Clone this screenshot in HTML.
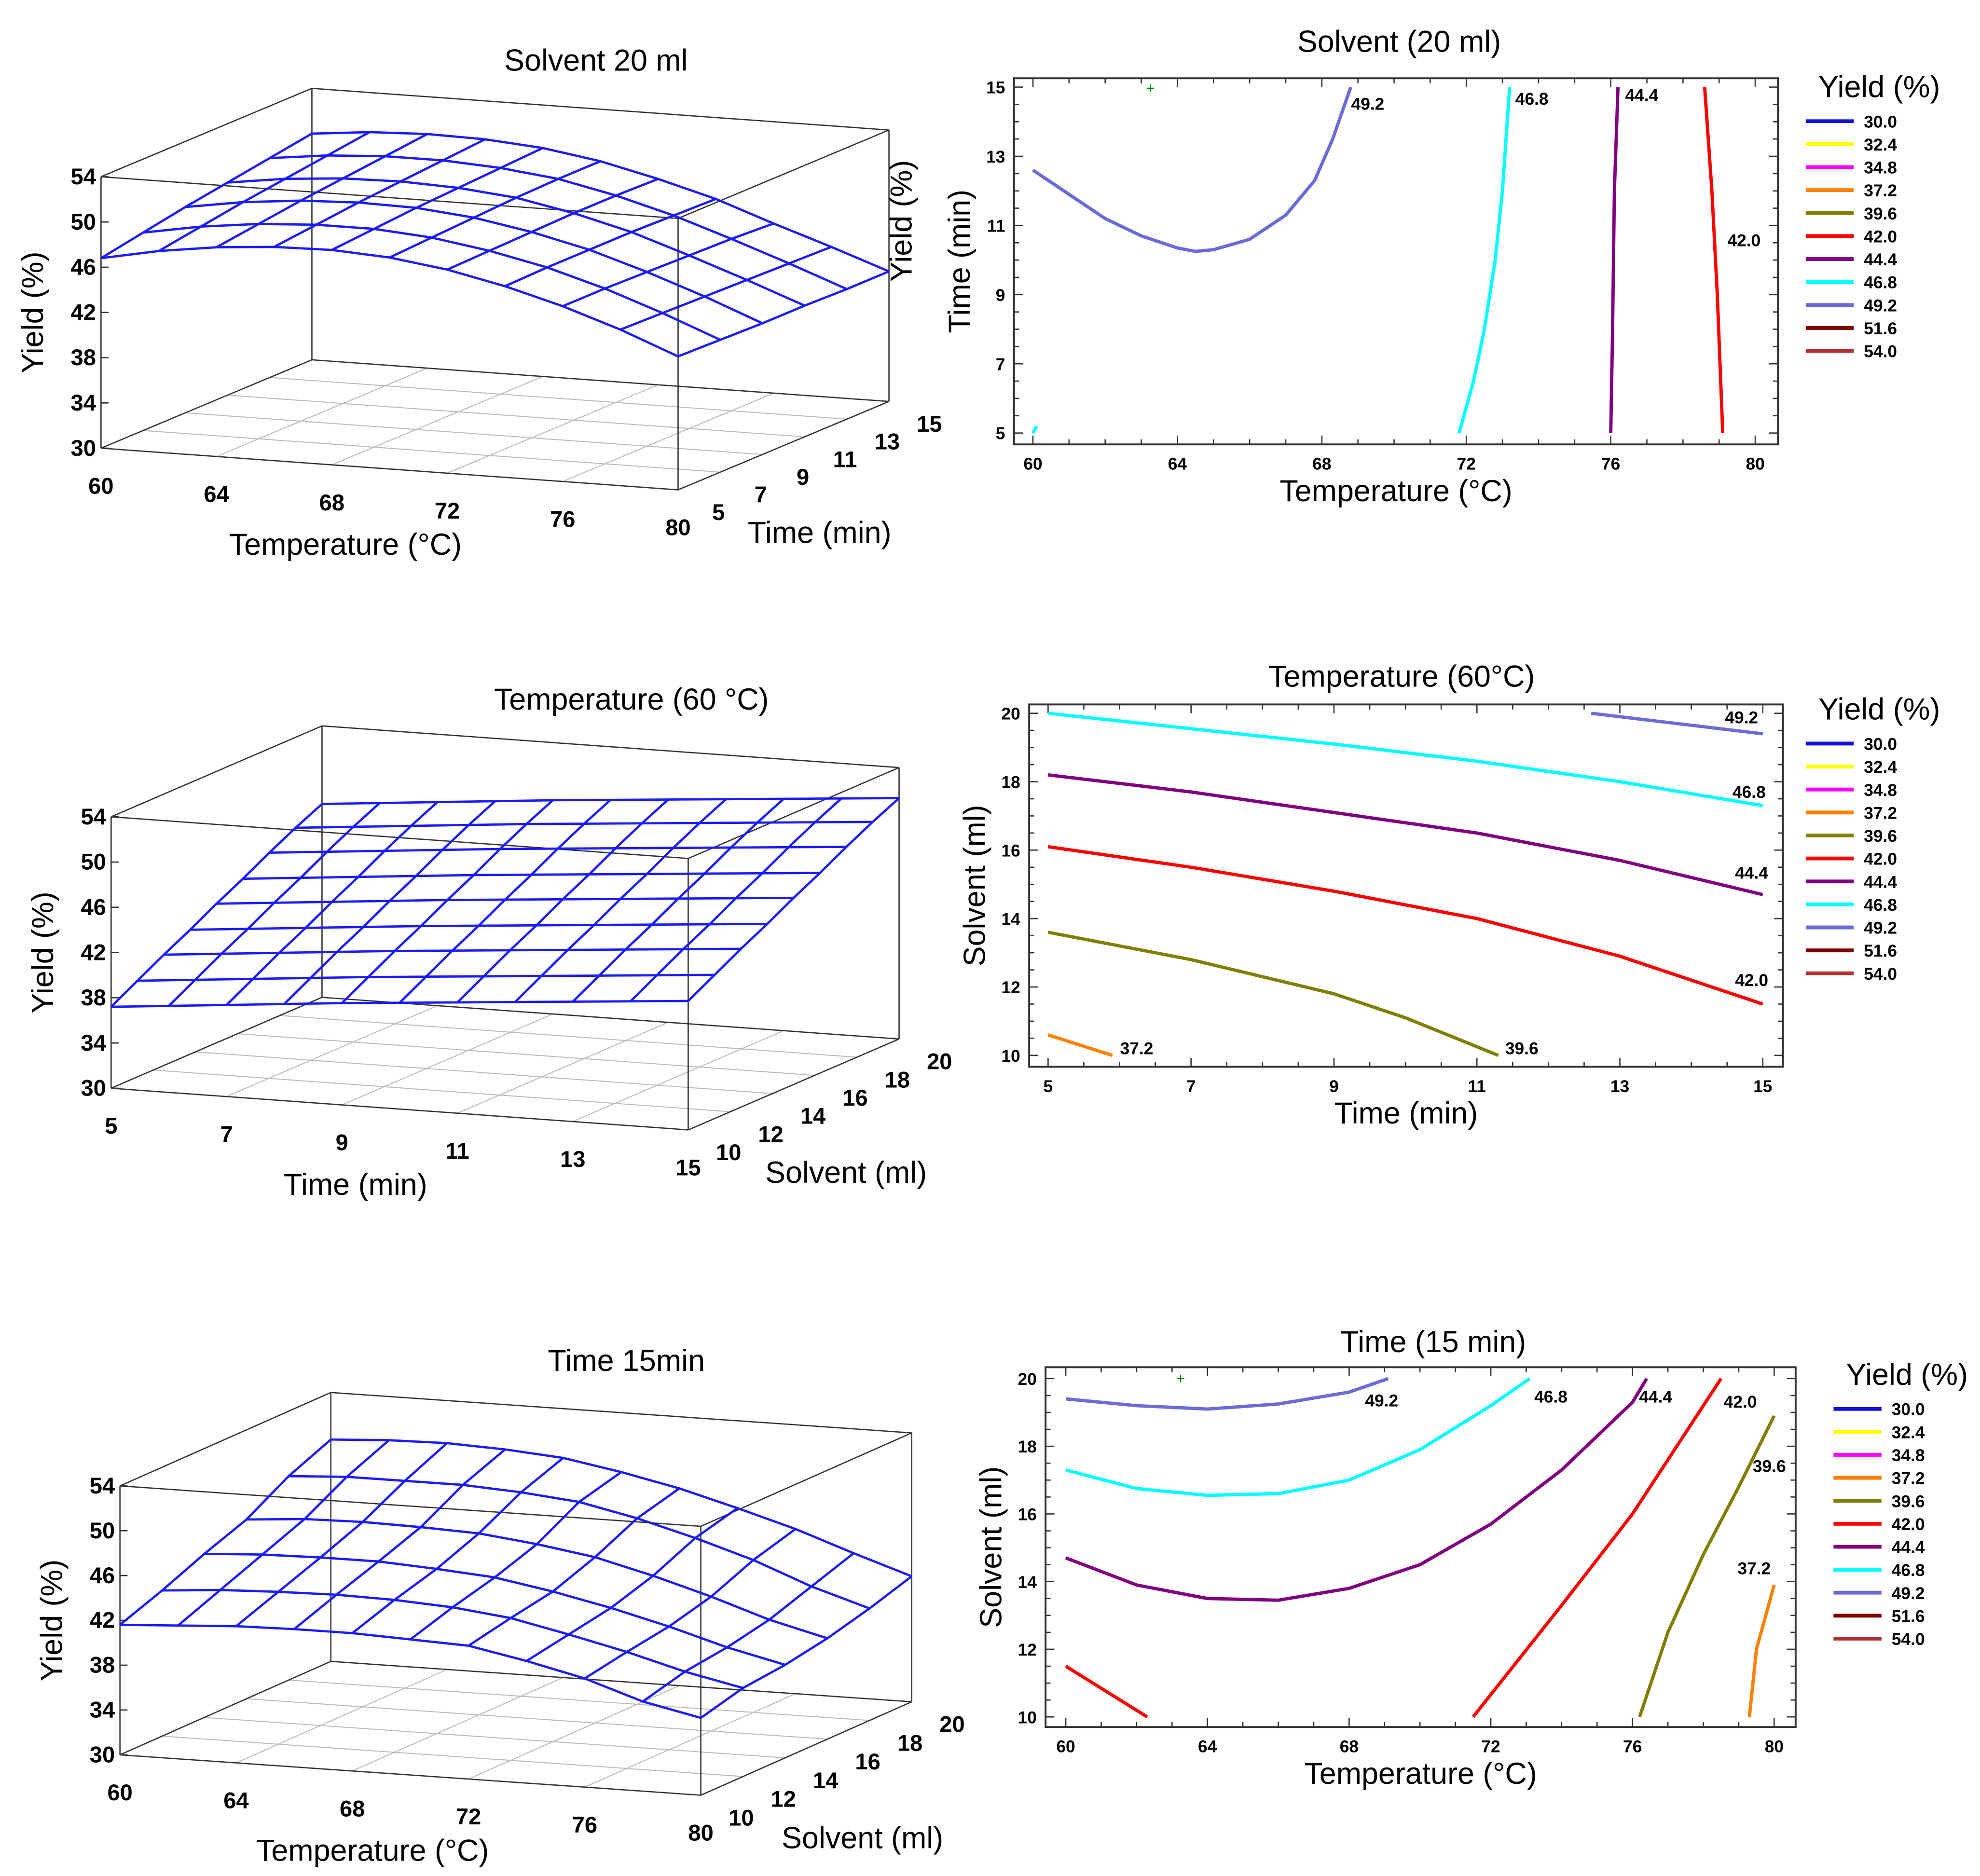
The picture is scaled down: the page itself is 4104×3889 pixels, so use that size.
<!DOCTYPE html>
<html><head><meta charset="utf-8">
<style>
html,body{margin:0;padding:0;background:#fff;}
svg{display:block;}
text{font-family:"Liberation Sans",Arial,sans-serif;}
.t{font-size:24px;fill:#000;}
.ax{font-size:24px;fill:#000;}
.tk{font-size:18px;font-weight:bold;fill:#000;}
.ct{font-size:13.5px;font-weight:bold;fill:#000;}
</style></head>
<body>
<svg id="fig" width="4104" height="3889" viewBox="0 0 1568 1486" preserveAspectRatio="none" xmlns="http://www.w3.org/2000/svg">
<rect x="0" y="0" width="1568" height="1486" fill="#fff"/>
<text class="t" x="472" y="56" text-anchor="middle">Solvent 20 ml</text>
<text class="t" x="1108" y="41" text-anchor="middle">Solvent (20 ml)</text>
<text class="t" x="500" y="562" text-anchor="middle">Temperature (60 °C)</text>
<text class="t" x="1110" y="544" text-anchor="middle">Temperature (60°C)</text>
<text class="t" x="496" y="1086" text-anchor="middle">Time 15min</text>
<text class="t" x="1135" y="1071" text-anchor="middle">Time (15 min)</text>
<text class="ax" transform="translate(722,175) rotate(-90)" text-anchor="middle">Yield (%)</text>
</svg>
<script>
const svg=document.getElementById('fig');
const NS='http://www.w3.org/2000/svg';
function mk(tag,attrs,parent){const e=document.createElementNS(NS,tag);for(const k in attrs)e.setAttribute(k,attrs[k]);(parent||svg).appendChild(e);return e;}
function nm(e,n,i){


return e;}

/* ---------- Surface 1: Solvent 20 ml ---------- */
const s1Temps=[60,62,64,66,68,70,72,74,76,78,80];
const s1Times=[5,7,9,11,13,15];
const s1Yield=[
[46.8,47.8,48.5,48.9,49.0,48.7,48.0,46.9,45.5,43.8,41.8],
[47.5,48.4,49.0,49.3,49.3,48.9,48.1,47.0,45.5,43.7,41.7],
[48.2,49.0,49.5,49.7,49.6,49.1,48.2,47.0,45.4,43.6,41.6],
[48.8,49.5,49.9,50.0,49.8,49.3,48.3,47.0,45.3,43.5,41.6],
[49.4,50.0,50.3,50.3,50.0,49.4,48.3,46.9,45.2,43.4,41.5],
[50.0,50.5,50.7,50.6,50.2,49.4,48.2,46.8,45.0,43.3,41.5]];
/* ---------- Surface 2: Temperature 60 ---------- */
const s2Times=[5,6,7,8,9,10,11,12,13,14,15];
const s2Solvents=[10,11.25,12.5,13.75,15,16.25,17.5,18.75,20];
const s2TimeEffect=[0,0.45,0.9,1.35,1.8,2.2,2.6,3.0,3.4,3.8,4.2];
const s2SolventEffect=[37.2,38.5,39.8,41.0,42.3,43.5,44.8,46.0,47.1];
/* ---------- Surface 3: Time 15 min ---------- */
const s3Temps=[60,62,64,66,68,70,72,74,76,78,80];
const s3Solvents=[10,12,14,16,18,20];
const s3Yield=[
[41.6,41.9,42.2,42.3,42.3,42.1,41.9,40.9,39.7,38.0,36.9],
[43.0,43.4,43.6,43.7,43.6,43.3,42.7,41.6,40.4,39.0,37.9],
[44.6,44.9,45.0,45.0,44.7,44.3,43.4,42.3,41.0,39.5,38.3],
[46.0,46.4,46.5,46.4,46.2,45.6,44.8,43.5,42.0,40.3,39.0],
[48.2,48.5,48.5,48.5,48.2,47.7,46.6,45.2,43.6,41.6,40.0],
[49.8,50.1,50.2,50.0,49.6,48.7,47.6,46.2,44.7,42.9,41.2]];
const zTicks=[30,34,38,42,46,50,54];

function surface(cfg){
  const {O,X,D,Zh,xr,dr,xTicks,dTicks,xs,ds,val,xTitle,dTitle,id}=cfg;
  const P=(x,d,z)=>{const u=(x-xr[0])/(xr[1]-xr[0]),v=(d-dr[0])/(dr[1]-dr[0]),w=(z-30)/24;
    return [O[0]+X[0]*u+D[0]*v, O[1]+X[1]*u+D[1]*v-Zh*w];};
  const g=nm(mk('g',{}),id+'-surface-plot');
  xTicks.forEach(t=>{const a=P(t,dr[0],30),b=P(t,dr[1],30);
    const l=mk('line',{x1:a[0],y1:a[1],x2:b[0],y2:b[1],stroke:'#bbb','stroke-width':0.8},g);nm(l,'floor-grid-line');});
  dTicks.forEach(t=>{const a=P(xr[0],t,30),b=P(xr[1],t,30);
    const l=mk('line',{x1:a[0],y1:a[1],x2:b[0],y2:b[1],stroke:'#bbb','stroke-width':0.8},g);nm(l,'floor-grid-line');});
  const C=[];for(const x of xr)for(const d of dr)for(const z of [30,54])C.push([x,d,z]);
  const E=[];for(let i=0;i<8;i++)for(let j=i+1;j<8;j++){let diff=0;for(let k=0;k<3;k++)if(C[i][k]!==C[j][k])diff++;if(diff===1)E.push([C[i],C[j]]);}
  E.forEach(e=>{const a=P(...e[0]),b=P(...e[1]);
    const l=mk('line',{x1:a[0],y1:a[1],x2:b[0],y2:b[1],stroke:'#333','stroke-width':1},g);nm(l,'box-edge');});
  zTicks.forEach(z=>{const a=P(xr[0],dr[0],z);
    const l=mk('line',{x1:a[0],y1:a[1],x2:a[0]+6,y2:a[1],stroke:'#333','stroke-width':1},g);nm(l,'z-tick');
    const t=mk('text',{x:a[0]-4,y:a[1]+6,'text-anchor':'end',class:'tk'},g);t.textContent=z;nm(t,'z-tick-label');});
  xTicks.forEach(x=>{const a=P(x,dr[0],30);
    const t=mk('text',{x:a[0],y:a[1]+36,'text-anchor':'middle',class:'tk'},g);t.textContent=x;nm(t,'x-tick-label');});
  dTicks.forEach(d=>{const a=P(xr[1],d,30);
    const t=mk('text',{x:a[0]+32,y:a[1]+24,'text-anchor':'middle',class:'tk'},g);t.textContent=d;nm(t,'depth-tick-label');});
  const a0=P(xr[0],dr[0],42);
  const yt=mk('text',{transform:`translate(${a0[0]-46},${a0[1]}) rotate(-90)`,'text-anchor':'middle',class:'ax'},g);yt.textContent='Yield (%)';nm(yt,'z-axis-title');
  const xm=P((xr[0]+xr[1])/2,dr[0],30);
  const xt=mk('text',{x:xm[0]+cfg.xTitleDx,y:xm[1]+68,'text-anchor':'middle',class:'ax'},g);xt.textContent=xTitle;nm(xt,'x-axis-title');
  const dm=P(xr[1],dr[0],30);
  const dt=mk('text',{x:dm[0]+cfg.dTitleDx,y:dm[1]+42,'text-anchor':'middle',class:'ax'},g);dt.textContent=dTitle;nm(dt,'depth-axis-title');
  for(let j=0;j<ds.length;j++){const pts=xs.map((x,i)=>P(x,ds[j],val(i,j)).join(',')).join(' ');
    const l=mk('polyline',{points:pts,fill:'none',stroke:'#1a1aff','stroke-width':1.8},g);nm(l,'mesh-line');}
  for(let i=0;i<xs.length;i++){const pts=ds.map((d,j)=>P(xs[i],d,val(i,j)).join(',')).join(' ');
    const l=mk('polyline',{points:pts,fill:'none',stroke:'#1a1aff','stroke-width':1.8},g);nm(l,'mesh-line');}
}
surface({id:'s1',O:[80,355],X:[457,33],D:[167,-70],Zh:215,xr:[60,80],dr:[5,15],xTicks:[60,64,68,72,76,80],dTicks:[5,7,9,11,13,15],
  xs:s1Temps,ds:s1Times,val:(i,j)=>s1Yield[j][i],xTitle:'Temperature (°C)',dTitle:'Time (min)',xTitleDx:-35,dTitleDx:112});
surface({id:'s2',O:[88,862],X:[457,33],D:[167,-72],Zh:215,xr:[5,15],dr:[10,20],xTicks:[5,7,9,11,13,15],dTicks:[10,12,14,16,18,20],
  xs:s2Times,ds:s2Solvents,val:(i,j)=>s2SolventEffect[j]+s2TimeEffect[i],xTitle:'Time (min)',dTitle:'Solvent (ml)',xTitleDx:-35,dTitleDx:125});
surface({id:'s3',O:[95,1390],X:[460,32],D:[167,-74],Zh:213,xr:[60,80],dr:[10,20],xTicks:[60,64,68,72,76,80],dTicks:[10,12,14,16,18,20],
  xs:s3Temps,ds:s3Solvents,val:(i,j)=>s3Yield[j][i],xTitle:'Temperature (°C)',dTitle:'Solvent (ml)',xTitleDx:-30,dTitleDx:128});

/* ---------- Contour data ---------- */
const legendLevels=['30.0','32.4','34.8','37.2','39.6','42.0','44.4','46.8','49.2','51.6','54.0'];
const legendColors=['#1010e0','#ffff00','#ff00ff','#ff8000','#808000','#ff0000','#800080','#00ffff','#6a6ad8','#800000','#b03030'];
const c1_492=[[60,12.6],[61,11.9],[62,11.2],[63,10.7],[64,10.35],[64.5,10.25],[65,10.3],[66,10.6],[67,11.3],[67.8,12.3],[68.3,13.5],[68.8,15]];
const c1_468=[[71.8,5],[72.2,6.5],[72.5,8],[72.8,10],[73.0,12],[73.2,15]];
const c1_444=[[76.0,5],[76.05,8],[76.1,12],[76.2,15]];
const c1_420=[[79.1,5],[78.95,9],[78.8,12],[78.6,15]];
const c1_cyanDot=[[60,5],[60.1,5.2]];
const c2_492=[[12.6,20],[15,19.4]];
const c2_468=[[5,20],[7,19.55],[9,19.1],[11,18.6],[13,18.0],[15,17.3]];
const c2_444=[[5,18.2],[7,17.7],[9,17.1],[11,16.5],[13,15.7],[15,14.7]];
const c2_420=[[5,16.1],[7,15.5],[9,14.8],[11,14.0],[13,12.9],[15,11.5]];
const c2_396=[[5,13.6],[7,12.8],[9,11.8],[10,11.1],[11.3,10]];
const c2_372=[[5,10.6],[5.9,10]];
const c3_492=[[60,19.4],[62,19.2],[64,19.1],[66,19.25],[68,19.6],[69.1,20]];
const c3_468=[[60,17.3],[62,16.75],[64,16.55],[66,16.6],[68,17.0],[70,17.9],[72,19.2],[73.1,20]];
const c3_444=[[60,14.7],[62,13.9],[64,13.5],[66,13.45],[68,13.8],[70,14.5],[72,15.7],[74,17.3],[76,19.3],[76.4,20]];
const c3_420a=[[60,11.5],[62.3,10]];
const c3_420b=[[71.5,10],[74,13.3],[76,16],[78.5,20]];
const c3_396=[[76.2,10],[77,12.5],[78,14.8],[79,16.8],[80,18.9]];
const c3_372=[[79.3,10],[79.5,12],[80,13.9]];

function contour(cfg){
  const {id,box,xr,yr,xpx,ypx,xTicks,yTicks,lines,labels,xTitle,yTitle,legend,plus}=cfg;
  const g=nm(mk('g',{}),id+'-contour-plot');
  const sx=v=>xpx[0]+(v-xr[0])/(xr[1]-xr[0])*(xpx[1]-xpx[0]);
  const sy=v=>ypx[0]+(v-yr[0])/(yr[1]-yr[0])*(ypx[1]-ypx[0]);
  const b=mk('rect',{x:box[0],y:box[1],width:box[2]-box[0],height:box[3]-box[1],fill:'none',stroke:'#333','stroke-width':1.5},g);nm(b,'plot-frame');
  const xstep=(xTicks[1]-xTicks[0])/4;
  for(let v=xTicks[0];v<=xTicks[xTicks.length-1]+1e-9;v+=xstep){const x=sx(v),L=Math.abs((v-xTicks[0])%(xTicks[1]-xTicks[0]))<1e-6?7:4;
    const t1=mk('line',{x1:x,y1:box[3],x2:x,y2:box[3]-L,stroke:'#333'},g);nm(t1,'x-tick');
    const t2=mk('line',{x1:x,y1:box[1],x2:x,y2:box[1]+L,stroke:'#333'},g);nm(t2,'x-tick');}
  const ystep=(yTicks[1]-yTicks[0])/4;
  for(let v=yTicks[0];v<=yTicks[yTicks.length-1]+1e-9;v+=ystep){const y=sy(v),L=Math.abs((v-yTicks[0])%(yTicks[1]-yTicks[0]))<1e-6?7:4;
    const t1=mk('line',{x1:box[0],y1:y,x2:box[0]+L,y2:y,stroke:'#333'},g);nm(t1,'y-tick');
    const t2=mk('line',{x1:box[2],y1:y,x2:box[2]-L,y2:y,stroke:'#333'},g);nm(t2,'y-tick');}
  xTicks.forEach(v=>{const t=mk('text',{x:sx(v),y:box[3]+20,'text-anchor':'middle',class:'ct'},g);t.textContent=v;nm(t,'x-tick-label');});
  yTicks.forEach(v=>{const t=mk('text',{x:box[0]-7,y:sy(v)+5,'text-anchor':'end',class:'ct'},g);t.textContent=v;nm(t,'y-tick-label');});
  const xt=mk('text',{x:(box[0]+box[2])/2,y:box[3]+45,'text-anchor':'middle',class:'ax'},g);xt.textContent=xTitle;nm(xt,'x-axis-title');
  const yt=mk('text',{transform:`translate(${box[0]-35},${(box[1]+box[3])/2}) rotate(-90)`,'text-anchor':'middle',class:'ax'},g);yt.textContent=yTitle;nm(yt,'y-axis-title');
  lines.forEach(([pts,col])=>{const l=mk('polyline',{points:pts.map(p=>sx(p[0])+','+sy(p[1])).join(' '),fill:'none',stroke:col,'stroke-width':2.6,'stroke-linejoin':'round'},g);nm(l,'contour-line');});
  labels.forEach(([txt,x,y])=>{const t=mk('text',{x:x,y:y,class:'ct'},g);t.textContent=txt;nm(t,'contour-label');});
  if(plus){const p=mk('text',{x:plus[0],y:plus[1],'text-anchor':'middle','font-size':12,fill:'#080'},g);p.textContent='+';nm(p,'optimum-marker');}
  const lt=mk('text',{x:legend[0],y:legend[1],class:'ax'},g);lt.textContent='Yield (%)';nm(lt,'legend-title');
  legendLevels.forEach((lv,i)=>{const y=legend[1]+19+i*18.2;
    const l=mk('line',{x1:legend[0]-10,y1:y,x2:legend[0]+28,y2:y,stroke:legendColors[i],'stroke-width':3},g);nm(l,'legend-swatch');
    const t=mk('text',{x:legend[0]+36,y:y+5,class:'ct'},g);t.textContent=lv;nm(t,'legend-entry');});
}
contour({id:'c1',box:[803,62,1408,352],xr:[60,80],yr:[5,15],xpx:[818,1390],ypx:[343,69],xTicks:[60,64,68,72,76,80],yTicks:[5,7,9,11,13,15],
  lines:[[c1_492,'#6a6ad8'],[c1_468,'#00ffff'],[c1_444,'#800080'],[c1_420,'#ff0000'],[c1_cyanDot,'#00ffff']],
  labels:[['49.2',1070,87],['46.8',1200,83],['44.4',1287,80],['42.0',1368,195]],xTitle:'Temperature (°C)',yTitle:'Time (min)',legend:[1440,77],plus:[911,74]});
contour({id:'c2',box:[815,558,1412,845],xr:[5,15],yr:[10,20],xpx:[830,1396],ypx:[836,565],xTicks:[5,7,9,11,13,15],yTicks:[10,12,14,16,18,20],
  lines:[[c2_492,'#6a6ad8'],[c2_468,'#00ffff'],[c2_444,'#800080'],[c2_420,'#ff0000'],[c2_396,'#808000'],[c2_372,'#ff8000']],
  labels:[['49.2',1366,573],['46.8',1372,632],['44.4',1374,696],['42.0',1374,781],['39.6',1192,835],['37.2',887,835]],xTitle:'Time (min)',yTitle:'Solvent (ml)',legend:[1440,570]});
contour({id:'c3',box:[828,1083,1422,1368],xr:[60,80],yr:[10,20],xpx:[844,1405],ypx:[1360,1092],xTicks:[60,64,68,72,76,80],yTicks:[10,12,14,16,18,20],
  lines:[[c3_492,'#6a6ad8'],[c3_468,'#00ffff'],[c3_444,'#800080'],[c3_420a,'#ff0000'],[c3_420b,'#ff0000'],[c3_396,'#808000'],[c3_372,'#ff8000']],
  labels:[['49.2',1081,1114],['46.8',1215,1111],['44.4',1298,1111],['42.0',1365,1115],['39.6',1388,1166],['37.2',1376,1247]],xTitle:'Temperature (°C)',yTitle:'Solvent (ml)',legend:[1462,1097],plus:[935,1096]});
</script>
</body></html>
